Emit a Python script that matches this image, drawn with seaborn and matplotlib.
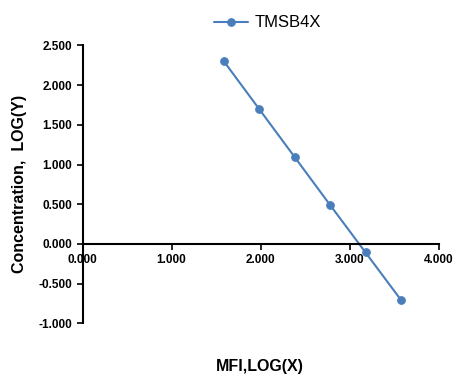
import matplotlib.pyplot as plt
import matplotlib as mpl
import seaborn as sns
import pandas as pd
from matplotlib.ticker import FormatStrFormatter

sns.set_style("white")
mpl.rcParams["font.family"] = ["Liberation Sans", "DejaVu Sans"]
mpl.rcParams["text.color"] = "black"
mpl.rcParams["xtick.color"] = "black"
mpl.rcParams["ytick.color"] = "black"
mpl.rcParams["axes.labelcolor"] = "black"

# 标准曲线数据
mfi_log = [1.588, 1.985, 2.382, 2.779, 3.180, 3.581]
conc_log = [2.301, 1.699, 1.097, 0.495, -0.107, -0.709]
series_name = "TMSB4X"

df = pd.DataFrame({"x": mfi_log, "y": conc_log, "name": series_name})

fig = plt.figure(figsize=(4.69, 3.92), dpi=100)
ax = fig.add_axes([0.176, 0.175, 0.759, 0.709])

line_color = "#4a7ebb"
sns.lineplot(data=df, x="x", y="y", hue="name", palette=[line_color],
             marker="o", markersize=5.5, markeredgecolor=line_color,
             linewidth=1.5, ax=ax, sort=False)

ax.set_xlim(0, 4)
ax.set_ylim(-1, 2.5)
ax.set_xticks([0, 1, 2, 3, 4])
ax.set_yticks([-1, -0.5, 0, 0.5, 1, 1.5, 2, 2.5])
ax.xaxis.set_major_formatter(FormatStrFormatter("%.3f"))
ax.yaxis.set_major_formatter(FormatStrFormatter("%.3f"))

# 坐标轴交叉于原点
ax.spines["bottom"].set_position(("data", 0))
ax.spines["left"].set_position(("data", 0))
ax.spines["top"].set_visible(False)
ax.spines["right"].set_visible(False)
for s in ["bottom", "left"]:
    ax.spines[s].set_linewidth(1.5)
    ax.spines[s].set_color("black")

ax.tick_params(axis="both", direction="out", length=4, width=1.2,
               color="black", labelcolor="black", labelsize=8.5,
               bottom=True, left=True)
for lbl in ax.get_xticklabels() + ax.get_yticklabels():
    lbl.set_fontweight("bold")
ax.tick_params(axis="x", pad=3)

ax.set_xlabel("")
ax.set_ylabel("")
fig.text(0.555, 0.065, "MFI,LOG(X)", ha="center", va="center",
         fontsize=11.5, fontweight="bold", color="black")
fig.text(0.042, 0.53, "Concentration,  LOG(Y)", ha="center", va="center",
         rotation=90, fontsize=11.5, fontweight="bold", color="black")

leg = ax.legend(loc="lower center", bbox_to_anchor=(0.52, 1.0), frameon=False,
                fontsize=12, handlelength=2.0, handletextpad=0.4)
for t in leg.get_texts():
    t.set_color("black")

fig.savefig("out.png", dpi=100)
plt.close(fig)
